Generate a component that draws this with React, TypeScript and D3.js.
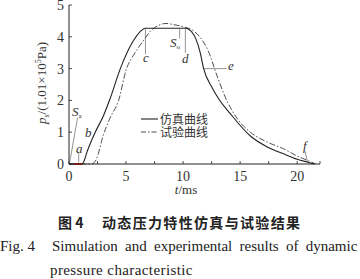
import React from "react";
import * as d3 from "d3";

const simT = [0, 1.1, 1.3, 1.6, 2.3, 3.0, 3.6, 4.5, 5.6, 6.2, 6.7, 10.2, 10.7, 11.1, 11.5, 11.8, 12.55, 13.1, 14.1, 15.9, 17.3, 18.8, 20.0, 21.0, 21.5];
const simV = [0, 0, 0.08, 0.4, 1.0, 1.5, 2.05, 3.0, 3.85, 4.15, 4.27, 4.27, 4.18, 3.95, 3.5, 3.0, 2.4, 2.06, 1.6, 0.88, 0.55, 0.32, 0.15, 0.05, 0];
const expT = [0, 2.0, 2.4, 3.0, 3.6, 4.35, 5.0, 5.7, 6.5, 7.2, 8.0, 8.5, 9.2, 10.0, 10.9, 11.5, 12.2, 12.95, 13.7, 14.7, 15.9, 17.3, 18.8, 20.0, 21.0, 21.6];
const expV = [0, 0, 0.15, 0.9, 1.45, 2.0, 2.95, 3.45, 3.87, 4.2, 4.38, 4.42, 4.38, 4.32, 4.19, 3.98, 3.56, 2.8, 2.1, 1.45, 1.0, 0.7, 0.48, 0.25, 0.1, 0];
const xTicks = [0, 2.5, 5, 7.5, 10, 12.5, 15, 17.5, 20, 22];
const xLabels = [0, 5, 10, 15, 20];
const yTicks = [0, 1, 2, 3, 4, 5];
const legendLabels = ["仿真曲线", "试验曲线"];

export default function App() {
  const x = d3.scaleLinear().domain([0, 22]).range([69, 320]);
  const y = d3.scaleLinear().domain([0, 5]).range([164, 5]);
  const line = d3
    .line<[number, number]>()
    .x((d) => x(d[0]))
    .y((d) => y(d[1]))
    .curve(d3.curveMonotoneX);
  const simPath = line(simT.map((t, i) => [t, simV[i]]) as [number, number][]) || "";
  const expPath = line(expT.map((t, i) => [t, expV[i]]) as [number, number][]) || "";
  const ink = "#222";
  const ann = "#666";
  const serif = "Liberation Serif, Times New Roman, DejaVu Serif, serif";
  const cjk = "Noto Sans CJK SC, sans-serif";
  return (
    <svg width={360} height={279} style={{ position: "absolute", left: 0, top: 0, background: "#fff" }}>
      {/* axes */}
      <line x1={x(0)} x2={x(22)} y1={y(0)} y2={y(0)} stroke={ink} strokeWidth={1} />
      <line x1={x(0)} x2={x(0)} y1={y(0)} y2={y(5)} stroke={ink} strokeWidth={1} />
      {xTicks.map((t) => (
        <line key={"xt" + t} x1={x(t)} x2={x(t)} y1={y(0)} y2={y(0) - 3} stroke={ink} strokeWidth={0.8} />
      ))}
      {yTicks.map((v) => (
        <line key={"yt" + v} x1={x(0)} x2={x(0) + 3} y1={y(v)} y2={y(v)} stroke={ink} strokeWidth={0.8} />
      ))}
      {xLabels.map((t) => (
        <text key={"xl" + t} x={x(t)} y={181} textAnchor="middle" fontFamily={serif} fontSize={14} fill="#333">
          {t}
        </text>
      ))}
      {yTicks.map((v) => (
        <text key={"yl" + v} x={64} y={y(v) + 5} textAnchor="end" fontFamily={serif} fontSize={14} fill="#333">
          {v}
        </text>
      ))}
      <text x={186} y={194} textAnchor="middle" fontFamily={serif} fontSize={13} fill="#333">
        <tspan fontStyle="italic">t</tspan>/ms
      </text>
      <text transform="translate(46,83) rotate(-90)" textAnchor="middle" fontFamily={serif} fontSize={13} fill="#333">
        <tspan fontStyle="italic">p</tspan>
        <tspan fontSize={8} dy={3}>s</tspan>
        <tspan dy={-3}>/(1.01×10</tspan>
        <tspan fontSize={8} dy={-5}>5</tspan>
        <tspan dy={5}>Pa)</tspan>
      </text>

      {/* curves */}
      <path d={expPath} fill="none" stroke={ink} strokeWidth={0.8} strokeDasharray="6,2,1.5,2" />
      <path d={simPath} fill="none" stroke={ink} strokeWidth={1.1} />
      <line x1={x(0.45)} x2={x(1.15)} y1={y(0)} y2={y(0)} stroke="#7a1a1a" strokeWidth={2} />

      {/* annotations */}
      <line x1={x(0.05)} x2={x(0.75)} y1={y(0.03)} y2={y(1.45)} stroke={ann} strokeWidth={0.7} />
      <text x={72} y={116} fontFamily={serif} fontSize={13} fontStyle="italic" fill="#333">
        S<tspan fontSize={7} dy={2} fontStyle="normal">a</tspan>
      </text>
      <line x1={x(0.85)} x2={x(0.85)} y1={y(0.05)} y2={y(0.35)} stroke={ann} strokeWidth={0.7} />
      <text x={76} y={153} fontFamily={serif} fontSize={13} fontStyle="italic" fill="#333">a</text>
      <text x={85} y={137} fontFamily={serif} fontSize={13} fontStyle="italic" fill="#333">b</text>
      <line x1={x(6.7)} x2={x(6.7)} y1={y(4.27)} y2={y(3.45)} stroke={ann} strokeWidth={0.7} />
      <text x={143} y={62} fontFamily={serif} fontSize={13} fontStyle="italic" fill="#333">c</text>
      <line x1={x(9.7)} x2={x(9.7)} y1={y(4.27)} y2={y(3.95)} stroke={ann} strokeWidth={0.7} />
      <text x={170} y={47} fontFamily={serif} fontSize={13} fontStyle="italic" fill="#333">
        S<tspan fontSize={7} dy={2} fontStyle="normal">o</tspan>
      </text>
      <line x1={x(10.2)} x2={x(10.2)} y1={y(4.27)} y2={y(3.5)} stroke={ann} strokeWidth={0.7} />
      <text x={182} y={63} fontFamily={serif} fontSize={13} fontStyle="italic" fill="#333">d</text>
      <line x1={x(11.8)} x2={x(13.8)} y1={y(3.0)} y2={y(3.0)} stroke={ann} strokeWidth={0.7} />
      <text x={228} y={70} fontFamily={serif} fontSize={13} fontStyle="italic" fill="#333">e</text>
      <line x1={x(20.9)} x2={x(20.7)} y1={y(0.06)} y2={y(0.4)} stroke={ann} strokeWidth={0.7} />
      <text x={303} y={150} fontFamily={serif} fontSize={13} fontStyle="italic" fill="#333">f</text>

      {/* legend */}
      <line x1={141} x2={158} y1={119} y2={119} stroke={ink} strokeWidth={1.1} />
      <line x1={141} x2={158} y1={132} y2={132} stroke={ink} strokeWidth={0.8} strokeDasharray="5,2,1.5,2" />
      <text x={160} y={123.5} fontFamily={cjk} fontSize={12} fill="#333">{legendLabels[0]}</text>
      <text x={160} y={136.5} fontFamily={cjk} fontSize={12} fill="#333">{legendLabels[1]}</text>

      {/* caption */}
      <text x={58} y={228} fontFamily={cjk} fontSize={14} fontWeight="bold" fill="#222">图 4</text>
      <text x={102} y={228} fontFamily={cjk} fontSize={14} fontWeight="bold" fill="#222" textLength={198} lengthAdjust="spacing">
        动态压力特性仿真与试验结果
      </text>
      <text x={0} y={251} fontFamily={serif} fontSize={15} fill="#222">Fig. 4</text>
      <text x={52} y={251} fontFamily={serif} fontSize={15} fill="#222" wordSpacing={3.5}>
        Simulation and experimental results of dynamic
      </text>
      <text x={50} y={275} fontFamily={serif} fontSize={15} fill="#222" letterSpacing={0.4}>pressure characteristic</text>
    </svg>
  );
}
